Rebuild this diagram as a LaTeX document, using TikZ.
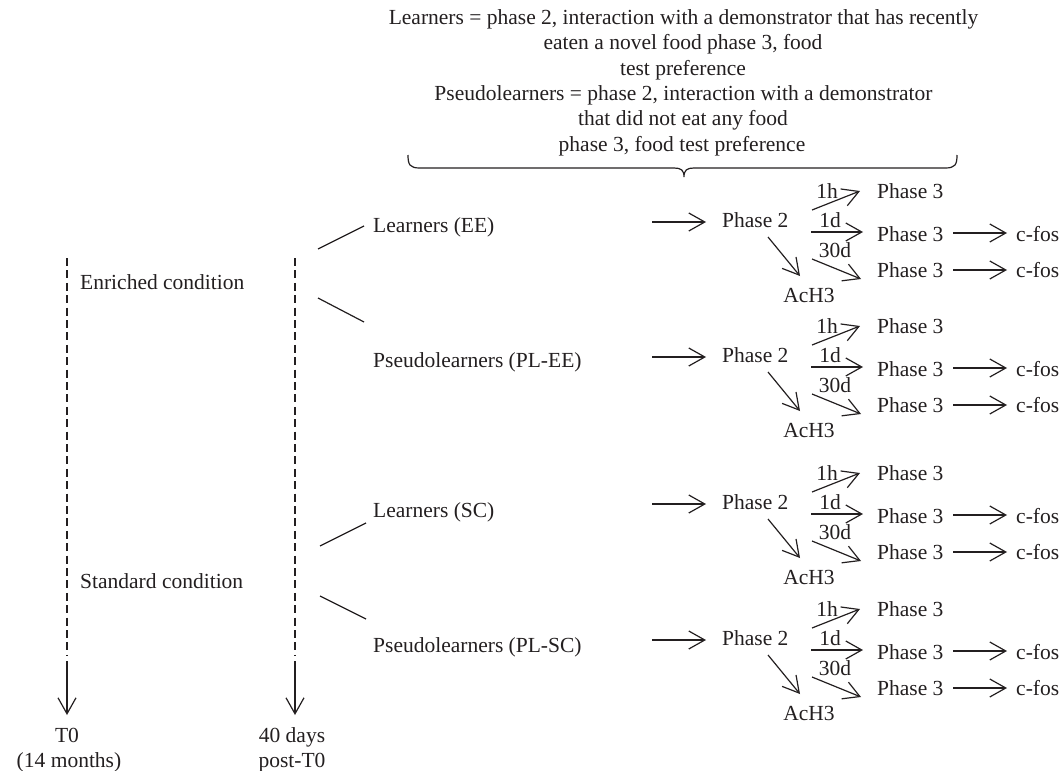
\documentclass[tikz,border=0pt]{standalone}
\usepackage{fontspec}
\setmainfont{Liberation Serif}
\usetikzlibrary{arrows.meta}
\definecolor{ink}{RGB}{35,31,32}
\tikzset{
  txt/.style={font=\fontsize{21.5}{25.4}\selectfont, inner sep=0pt, text=ink},
  ln/.style={draw=ink, line width=1.2pt},
  arr/.style={ln, -{Straight Barb[length=16pt,width=18pt,line width=1.2pt]}},
  dashline/.style={ln, dash pattern=on 8pt off 4.4pt}
}
\begin{document}
\begin{tikzpicture}[x=1pt,y=-1pt]
\useasboundingbox (0,0) rectangle (1061,771);

% top explanatory text
\node[txt, anchor=base] (n1) at (683.5,24) {Learners = phase 2, interaction with a demonstrator that has recently};
\node[txt, anchor=base] (n2) at (683,49) {eaten a novel food phase 3, food};
\node[txt, anchor=base] (n3) at (683,75) {test preference};
\node[txt, anchor=base] (n4) at (683.5,100) {Pseudolearners = phase 2, interaction with a demonstrator};
\node[txt, anchor=base] (n5) at (683,125) {that did not eat any food};
\node[txt, anchor=base] (n6) at (682,151) {phase 3, food test preference};

% brace
\draw[ln] (408,155) .. controls (408,165) and (410,168) .. (420,168) -- (674,168)
  .. controls (681,168) and (684,170) .. (684,177)
  .. controls (684,170) and (687,168) .. (694,168) -- (945,168)
  .. controls (955,168) and (957,165) .. (957,155);

% time axes
\coordinate (d1s) at (67,258); \coordinate (d1e) at (67,655);
\coordinate (a1s) at (67,661); \coordinate (a1e) at (67,715);
\coordinate (d2s) at (295,258); \coordinate (d2e) at (295,655);
\coordinate (a2s) at (295,661); \coordinate (a2e) at (295,715);
\draw[dashline] (d1s) -- (d1e);
\draw[dashline] (d2s) -- (d2e);
\node[txt, anchor=base] (t0) at (67,742) {T0};
\node[txt, anchor=base] (t0b) at (69,767) {(14 months)};
\node[txt, anchor=base] (d40) at (292,742) {40 days};
\node[txt, anchor=base] (d40b) at (292,767) {post-T0};
\draw[arr] (a1s) -- (a1e);
\draw[arr] (a2s) -- (a2e);

% conditions
\node[txt, anchor=base west] (enr) at (80,289) {Enriched condition};
\node[txt, anchor=base west] (std) at (80,588) {Standard condition};

% groups
\node[txt, anchor=base west] (g1) at (373,232) {Learners (EE)};
\node[txt, anchor=base west] (g2) at (373,367) {Pseudolearners (PL-EE)};
\node[txt, anchor=base west] (g3) at (373,517) {Learners (SC)};
\node[txt, anchor=base west] (g4) at (373,652) {Pseudolearners (PL-SC)};

\coordinate (b1s) at (318,249); \coordinate (b1e) at (364,226);
\coordinate (b2s) at (318,298); \coordinate (b2e) at (364,322);
\coordinate (b3s) at (320,546); \coordinate (b3e) at (366,523);
\coordinate (b4s) at (320,596); \coordinate (b4e) at (366,619);
\draw[ln] (b1s) -- (b1e);
\draw[ln] (b2s) -- (b2e);
\draw[ln] (b3s) -- (b3e);
\draw[ln] (b4s) -- (b4e);

% phase blocks
\foreach \i/\y in {1/222, 2/357, 3/504, 4/640} {
  \node[txt, anchor=base west] (p2-\i) at (722,\y+5) {Phase 2};
  \node[txt, anchor=base west] (p3a-\i) at (877,\y-24) {Phase 3};
  \node[txt, anchor=base west] (p3b-\i) at (877,\y+19) {Phase 3};
  \node[txt, anchor=base west] (p3c-\i) at (877,\y+55) {Phase 3};
  \node[txt, anchor=base west] (cfb-\i) at (1016,\y+19) {c-fos};
  \node[txt, anchor=base west] (cfc-\i) at (1016,\y+55) {c-fos};
  \node[txt, anchor=base] (ach-\i) at (809,\y+80) {AcH3};
  \node[txt, anchor=base] (l1h-\i) at (827,\y-24) {1h};
  \node[txt, anchor=base] (l1d-\i) at (830,\y+5) {1d};
  \node[txt, anchor=base] (l30-\i) at (835,\y+35) {30d};
  \coordinate (in-s-\i) at (652,\y);   \coordinate (in-e-\i) at (706,\y);
  \coordinate (h-s-\i) at (812,\y-12); \coordinate (h-e-\i) at (860,\y-31);
  \coordinate (d-s-\i) at (811,\y+10); \coordinate (d-e-\i) at (863,\y+10);
  \coordinate (m-s-\i) at (812,\y+37); \coordinate (m-e-\i) at (861,\y+57);
  \coordinate (c-s-\i) at (768,\y+15); \coordinate (c-e-\i) at (800,\y+54);
  \coordinate (f1-s-\i) at (953,\y+11); \coordinate (f1-e-\i) at (1007,\y+11);
  \coordinate (f2-s-\i) at (953,\y+48); \coordinate (f2-e-\i) at (1007,\y+48);
  \draw[arr] (in-s-\i) -- (in-e-\i);
  \draw[arr] (h-s-\i) -- (h-e-\i);
  \draw[arr] (d-s-\i) -- (d-e-\i);
  \draw[arr] (m-s-\i) -- (m-e-\i);
  \draw[arr] (c-s-\i) -- (c-e-\i);
  \draw[arr] (f1-s-\i) -- (f1-e-\i);
  \draw[arr] (f2-s-\i) -- (f2-e-\i);
}
\end{tikzpicture}
\end{document}
